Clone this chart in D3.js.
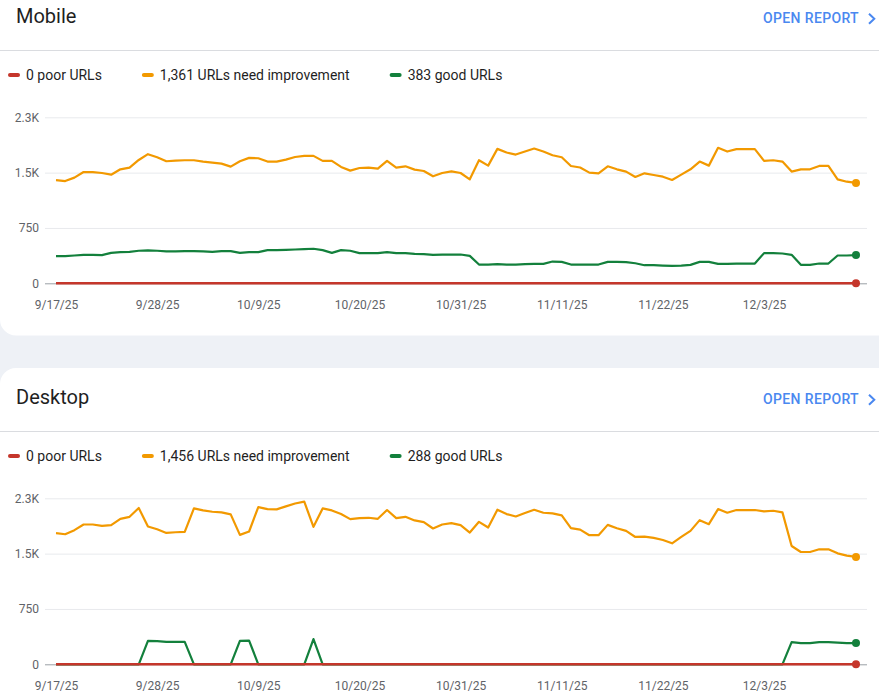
<!DOCTYPE html>
<html><head><meta charset="utf-8">
<script src="https://cdn.jsdelivr.net/npm/d3@7"></script>
<style>
html,body{margin:0;padding:0;background:#eef1f6;overflow:hidden;}
svg{display:block;font-family:Roboto,"Noto Sans",sans-serif;}
</style></head><body>
<svg id="chart" width="879" height="699"></svg>
<script>
// ---------- data ----------
const startDate = "2025-09-17";
const endDate = "2025-12-13";
const xTickLabels = ["9/17/25","9/28/25","10/9/25","10/20/25","10/31/25","11/11/25","11/22/25","12/3/25"];
const yTickValues = [0, 750, 1500, 2250];
const yTickLabels = ["0", "750", "1.5K", "2.3K"];
const seriesNames = ["poor URLs", "URLs need improvement", "good URLs"];
const seriesColors = ["#c5362b", "#f29900", "#13803c"];
const panelTitles = ["Mobile", "Desktop"];

const mobilePoor = [0,0,0,0,0,0,0,0,0,0, 0,0,0,0,0,0,0,0,0,0, 0,0,0,0,0,0,0,0,0,0, 0,0,0,0,0,0,0,0,0,0,
  0,0,0,0,0,0,0,0,0,0, 0,0,0,0,0,0,0,0,0,0, 0,0,0,0,0,0,0,0,0,0, 0,0,0,0,0,0,0,0,0,0, 0,0,0,0,0,0,0,0];
const mobileNeedsImprovement = [1399,1386,1432,1508,1508,1495,1472,1545,1568,1672,
  1750,1709,1654,1663,1668,1668,1650,1636,1622,1581,
  1654,1700,1695,1650,1650,1677,1712,1727,1727,1659,
  1659,1577,1527,1563,1568,1554,1659,1568,1586,1541,
  1522,1450,1495,1518,1495,1409,1668,1595,1822,1773,
  1745,1786,1827,1786,1736,1709,1590,1570,1500,1491,
  1586,1545,1514,1441,1491,1468,1445,1400,1473,1545,
  1650,1595,1836,1786,1818,1818,1818,1659,1668,1650,
  1514,1545,1545,1591,1591,1409,1377,1361];
const mobileGood = [368,368,377,386,386,382,413,423,427,441,
  445,441,432,432,436,436,432,427,436,436,
  413,423,423,450,450,454,458,463,468,450,
  413,450,441,409,409,409,423,409,409,400,
  395,386,390,390,390,372,254,254,259,254,
  254,259,263,263,295,290,254,254,254,254,
  290,290,286,272,245,245,240,236,240,250,
  290,290,263,263,268,268,268,409,409,404,
  386,250,250,268,268,377,377,383];

const desktopPoor = [0,0,0,0,0,0,0,0,0,0, 0,0,0,0,0,0,0,0,0,0, 0,0,0,0,0,0,0,0,0,0, 0,0,0,0,0,0,0,0,0,0,
  0,0,0,0,0,0,0,0,0,0, 0,0,0,0,0,0,0,0,0,0, 0,0,0,0,0,0,0,0,0,0, 0,0,0,0,0,0,0,0,0,0, 0,0,0,0,0,0,0,0];
const desktopNeedsImprovement = [1777,1763,1818,1895,1895,1877,1886,1972,1999,2118,
  1868,1831,1781,1790,1795,2113,2086,2068,2059,2032,
  1754,1800,2131,2104,2100,2141,2180,2204,1863,2113,
  2086,2036,1968,1981,1986,1972,2091,1981,1999,1950,
  1927,1841,1895,1913,1886,1786,1931,1854,2095,2036,
  2004,2050,2095,2054,2045,2018,1845,1826,1750,1750,
  1890,1845,1808,1726,1731,1713,1685,1640,1726,1808,
  1954,1899,2104,2054,2091,2091,2091,2073,2081,2059,
  1604,1522,1522,1559,1559,1504,1473,1456];
const desktopGood = [0,0,0,0,0,0,0,0,0,0,
  318,313,304,304,304,0,0,0,0,0,
  318,322,0,0,0,0,0,0,341,0,
  0,0,0,0,0,0,0,0,0,0,
  0,0,0,0,0,0,0,0,0,0,
  0,0,0,0,0,0,0,0,0,0,
  0,0,0,0,0,0,0,0,0,0,
  0,0,0,0,0,0,0,0,0,0,
  300,286,286,300,300,293,286,288];

// ---------- drawing ----------
const W = 879;
const svg = d3.select("#chart");
const parseISO = d3.utcParse("%Y-%m-%d");
const parseTick = d3.utcParse("%m/%d/%y");
const fmtTick = d3.utcFormat("%-m/%-d/%y");
const days = d3.utcDay.range(parseISO(startDate), d3.utcDay.offset(parseISO(endDate), 1));
const x = d3.scaleUtc().domain([parseISO(startDate), parseISO(endDate)]).range([56, 856]);

const panelOffset = 381;
const cardTop = [-40, -13];
const cardBottom = 335.5;

function drawPanel(p, series) {
  const oy = p * panelOffset;
  const g = svg.append("g").attr("transform", `translate(0,${oy})`);
  // card
  g.append("rect").attr("x", 0).attr("y", cardTop[p]).attr("width", W + 30)
    .attr("height", cardBottom - cardTop[p]).attr("rx", 16).attr("fill", "#ffffff");
  // title
  g.append("text").attr("x", 16).attr("y", 23.3).attr("font-size", 20).attr("fill", "#1f1f1f")
    .text(panelTitles[p]);
  // open report
  g.append("text").attr("x", 859).attr("y", 23.3).attr("text-anchor", "end")
    .attr("font-size", 14).attr("font-weight", 500).attr("letter-spacing", 0.35)
    .attr("fill", "#4a88f0").text("OPEN REPORT");
  g.append("path").attr("d", "M869,13.8L874.3,18.8L869,23.8").attr("fill", "none")
    .attr("stroke", "#4a88f0").attr("stroke-width", 2);
  // divider
  g.append("line").attr("x1", 0).attr("x2", W).attr("y1", 50.5).attr("y2", 50.5)
    .attr("stroke", "#dadce0").attr("stroke-width", 1);
  // legend
  let lx = 8;
  series.forEach((s, i) => {
    const last = s[s.length - 1];
    g.append("line").attr("x1", lx + 2).attr("x2", lx + 10).attr("y1", 75).attr("y2", 75)
      .attr("stroke", seriesColors[i]).attr("stroke-width", 4).attr("stroke-linecap", "round");
    const t = g.append("text").attr("x", lx + 18).attr("y", 80.3).attr("font-size", 14)
      .attr("fill", "#1f1f1f").text(`${d3.format(",")(last)} ${seriesNames[i]}`);
    lx = lx + 18 + t.node().getComputedTextLength() + 40;
  });

  const y = d3.scaleLinear().domain([0, 2250]).range([283.3, 117.3]);
  // y axis with gridlines
  const ya = g.append("g").attr("transform", "translate(45,0)")
    .call(d3.axisLeft(y).tickValues(yTickValues).tickFormat((d, i) => yTickLabels[i])
      .tickSize(-822).tickPadding(6));
  ya.select(".domain").remove();
  ya.selectAll(".tick line").attr("stroke", d => d === 0 ? "#9aa0a6" : "#e8eaed");
  ya.selectAll(".tick text").attr("font-size", 12).attr("fill", "#5f6368")
    .attr("font-family", "Roboto, sans-serif");
  // x axis
  const xa = g.append("g").attr("transform", "translate(0,283.3)")
    .call(d3.axisBottom(x).tickValues(xTickLabels.map(parseTick)).tickFormat(fmtTick)
      .tickSize(0).tickPadding(17.5));
  xa.select(".domain").remove();
  xa.selectAll(".tick text").attr("font-size", 12).attr("fill", "#5f6368")
    .attr("font-family", "Roboto, sans-serif");

  // lines: orange, green, then red on top
  const order = [1, 2, 0];
  order.forEach(i => {
    const line = d3.line().x((d, k) => x(days[k])).y(d => y(d));
    g.append("path").datum(series[i]).attr("d", line).attr("fill", "none")
      .attr("stroke", seriesColors[i]).attr("stroke-width", i === 0 ? 2.5 : 2.2)
      .attr("stroke-linejoin", "round");
  });
  order.forEach(i => {
    const s = series[i];
    g.append("circle").attr("cx", x(days[s.length - 1])).attr("cy", y(s[s.length - 1]))
      .attr("r", 4).attr("fill", seriesColors[i]);
  });
}

drawPanel(0, [mobilePoor, mobileNeedsImprovement, mobileGood]);
drawPanel(1, [desktopPoor, desktopNeedsImprovement, desktopGood]);
</script>
</body></html>
